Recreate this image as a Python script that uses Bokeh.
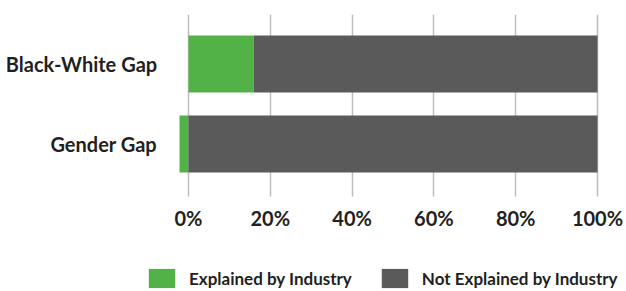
import numpy as np
from bokeh.plotting import figure
from bokeh.models import (ColumnDataSource, Range1d, FixedTicker, Legend, LegendItem)
from bokeh.embed import file_html
from bokeh.resources import INLINE

# ---- data ----
categories = ["Black-White Gap", "Gender Gap"]
explained = [15.9, -2.2]
not_explained = [84.1, 100.0]
x_ticks = [0, 20, 40, 60, 80, 100]
x_tick_labels = ["0%", "20%", "40%", "60%", "80%", "100%"]
series_names = ["Explained by Industry", "Not Explained by Industry"]

GREEN = "#52B248"
GREY = "#5A5A5A"
TEXT = "#231F20"
FONT = "Lato"

e = np.array(explained, dtype=float)
ne = np.array(not_explained, dtype=float)
ypos = np.arange(len(categories))[::-1]  # first category on top

g_left = np.minimum(0, e)
g_right = np.maximum(0, e)
k_left = np.maximum(0, e)
k_right = k_left + ne

src = ColumnDataSource(dict(y=ypos, gl=g_left, gr=g_right, kl=k_left, kr=k_right))

# layout constants (view window, axis positions)
X_VIEW = (-45.97, 107.09)
Y_VIEW = (-1.8435, 1.619)
PLOT_BOTTOM = -0.656   # where the value axis sits
CAT_AXIS_AT = -4       # where the category axis sits

p = figure(width=626, height=291, output_backend="svg", toolbar_location=None,
           x_range=Range1d(*X_VIEW), y_range=Range1d(*Y_VIEW),
           min_border_left=0, min_border_right=0, min_border_top=14, min_border_bottom=0)
p.outline_line_color = None
p.background_fill_color = "white"
p.border_fill_color = "white"

r1 = p.hbar(y="y", left="gl", right="gr", height=0.71, source=src,
            fill_color=GREEN, line_color=None)
r2 = p.hbar(y="y", left="kl", right="kr", height=0.71, source=src,
            fill_color=GREY, line_color=None)

# x axis
p.xaxis.fixed_location = PLOT_BOTTOM
p.xaxis.ticker = FixedTicker(ticks=x_ticks)
p.xaxis.major_label_overrides = {t: l for t, l in zip(x_ticks, x_tick_labels)}
p.xaxis.axis_line_color = None
p.xaxis.major_tick_line_color = None
p.xaxis.minor_tick_line_color = None
p.xaxis.major_tick_out = 0
p.xaxis.major_tick_in = 0
p.xaxis.major_label_standoff = 9
p.xaxis.major_label_text_font = FONT
p.xaxis.major_label_text_font_style = "bold"
p.xaxis.major_label_text_font_size = "20px"
p.xaxis.major_label_text_color = TEXT

# y axis
p.yaxis.fixed_location = CAT_AXIS_AT
p.yaxis.ticker = FixedTicker(ticks=list(ypos))
p.yaxis.major_label_overrides = {int(y): c for y, c in zip(ypos, categories)}
p.yaxis.axis_line_color = None
p.yaxis.major_tick_line_color = None
p.yaxis.minor_tick_line_color = None
p.yaxis.major_tick_out = 0
p.yaxis.major_tick_in = 0
p.yaxis.major_label_standoff = 15
p.yaxis.major_label_text_font = FONT
p.yaxis.major_label_text_font_style = "bold"
p.yaxis.major_label_text_font_size = "20px"
p.yaxis.major_label_text_color = TEXT

# grid
p.xgrid.ticker = FixedTicker(ticks=x_ticks)
p.xgrid.grid_line_color = "#BDBDBD"
p.xgrid.grid_line_width = 1.5
p.xgrid.cross_bounds = (PLOT_BOTTOM, Y_VIEW[1])
p.ygrid.grid_line_color = None

legend = Legend(items=[LegendItem(label=series_names[0], renderers=[r1]),
                       LegendItem(label=series_names[1], renderers=[r2])],
                orientation="horizontal", location=(145, 1),
                glyph_width=33, glyph_height=24, label_standoff=11, spacing=26,
                padding=0, margin=0, border_line_color=None, background_fill_alpha=0,
                label_text_font=FONT, label_text_font_style="bold",
                label_text_font_size="17px", label_text_color=TEXT,
                label_height=24)
p.add_layout(legend)

open("out.html", "w").write(file_html(p, INLINE))
